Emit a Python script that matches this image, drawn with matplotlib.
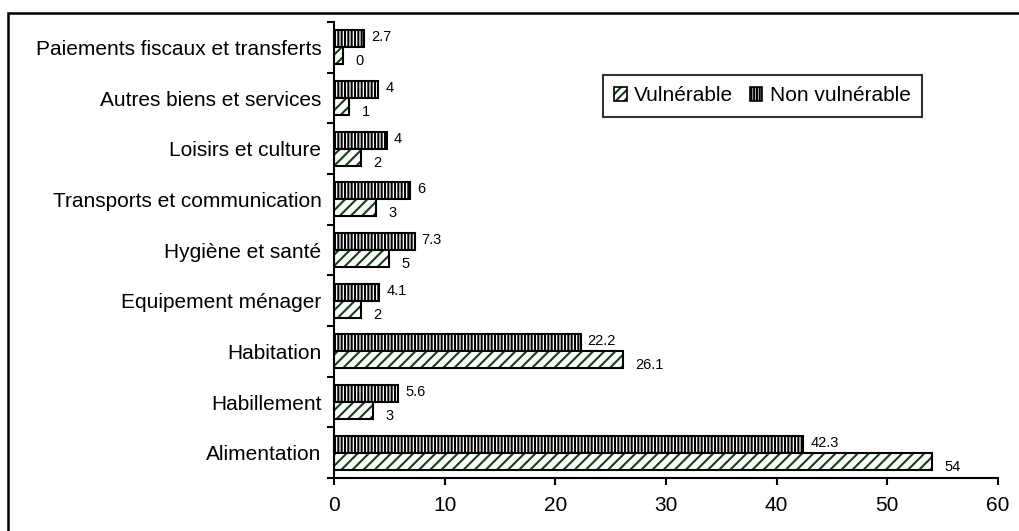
import matplotlib
matplotlib.use("Agg")
import matplotlib.pyplot as plt
from matplotlib.patches import Patch, Rectangle
import numpy as np

plt.rcParams["font.family"] = ["Liberation Sans", "DejaVu Sans"]
plt.rcParams["hatch.linewidth"] = 1.5

categories = [
    "Alimentation",
    "Habillement",
    "Habitation",
    "Equipement ménager",
    "Hygiène et santé",
    "Transports et communication",
    "Loisirs et culture",
    "Autres biens et services",
    "Paiements fiscaux et transferts",
]
# bar lengths as drawn
vulnerable = [54, 3.5, 26.1, 2.4, 5.0, 3.8, 2.4, 1.35, 0.8]
non_vulnerable = [42.4, 5.8, 22.3, 4.1, 7.3, 6.9, 4.8, 4.0, 2.7]
# value labels as printed
vulnerable_labels = ["54", "3", "26.1", "2", "5", "3", "2", "1", "0"]
non_vulnerable_labels = ["42.3", "5.6", "22.2", "4.1", "7.3", "6", "4", "4", "2.7"]
xticks = [0, 10, 20, 30, 40, 50, 60]

green = "#163f16"
h = 0.335

fig = plt.figure(figsize=(10.2, 5.31), dpi=100)
ax = fig.add_axes([334 / 1020, 1 - 478 / 531, 664 / 1020, 456 / 531])

y = np.arange(len(categories))
y_non = y + h / 2
y_vul = y - h / 2

# hatch layers then black outlines
ax.barh(y_non, non_vulnerable, height=h, facecolor="white", edgecolor="black",
        hatch="|||||", linewidth=0)
ax.barh(y_non, non_vulnerable, height=h, facecolor="none", edgecolor="black",
        linewidth=1.5)
ax.barh(y_vul, vulnerable, height=h, facecolor="white", edgecolor=green,
        hatch="///", linewidth=0)
ax.barh(y_vul, vulnerable, height=h, facecolor="none", edgecolor="black",
        linewidth=1.5)

for yi, v, lab in zip(y_non, non_vulnerable, non_vulnerable_labels):
    ax.annotate(lab, (v, yi), xytext=(5, 1), textcoords="offset points",
                ha="left", va="center", fontsize=10.5)
for yi, v, lab in zip(y_vul, vulnerable, vulnerable_labels):
    ax.annotate(lab, (v, yi), xytext=(9, -4), textcoords="offset points",
                ha="left", va="center", fontsize=10.5)

ax.set_xlim(0, 60)
ax.set_ylim(-0.5, len(categories) - 0.5)
ax.set_xticks(xticks)
ax.set_yticks(y)
ax.set_yticklabels(categories)
ax.set_yticks(np.arange(len(categories) + 1) - 0.5, minor=True)
ax.tick_params(axis="y", which="major", length=0, pad=9, labelsize=15)
ax.tick_params(axis="y", which="minor", length=5, width=1.5, direction="out")
ax.tick_params(axis="x", length=5, width=1.5, direction="out", pad=8, labelsize=15)

for s in ["top", "right"]:
    ax.spines[s].set_visible(False)
for s in ["left", "bottom"]:
    ax.spines[s].set_linewidth(1.5)

leg_vul = (Patch(facecolor="white", edgecolor=green, hatch="////", linewidth=0),
           Patch(facecolor="none", edgecolor="black", linewidth=1.2))
leg_non = (Patch(facecolor="white", edgecolor="black", hatch="||||||", linewidth=0),
           Patch(facecolor="none", edgecolor="black", linewidth=1.2))
leg = ax.legend([leg_vul, leg_non], ["Vulnérable", "Non vulnérable"],
                ncol=2, loc="upper left", bbox_to_anchor=(0.405, 0.884),
                borderaxespad=0, fontsize=15, frameon=True, fancybox=False,
                handlelength=0.6, handleheight=0.6, handletextpad=0.35,
                columnspacing=0.8, borderpad=0.55)
leg.get_frame().set_edgecolor("black")
leg.get_frame().set_linewidth(1.5)

# outer frame around the chart
fig.patches.append(Rectangle((8.5 / 1020, -0.05), 1.2, 1 - 13 / 531 + 0.05,
                             transform=fig.transFigure, fill=False,
                             edgecolor="black", linewidth=1.8, clip_on=False))

fig.savefig("out.png", dpi=100)
